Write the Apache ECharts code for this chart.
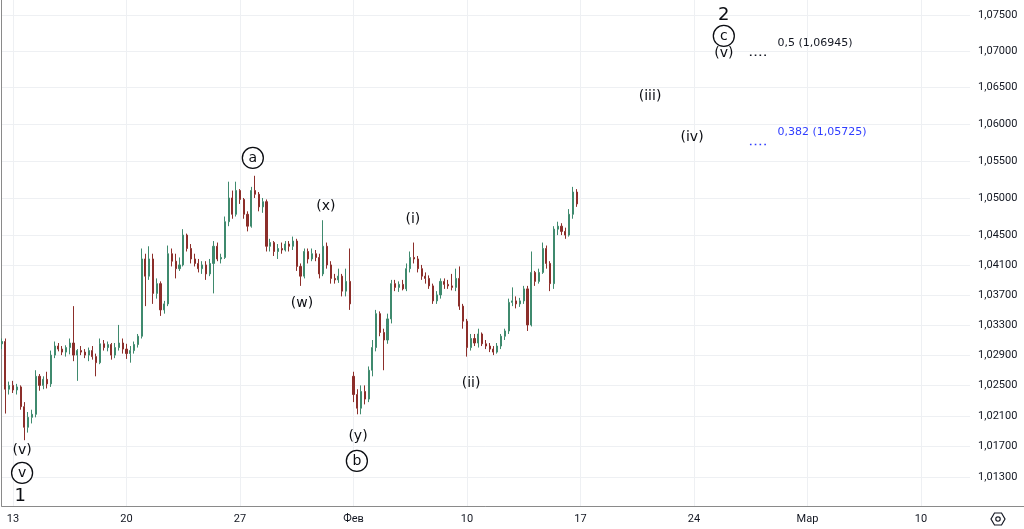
<!DOCTYPE html>
<html><head><meta charset="utf-8">
<script src="https://cdn.jsdelivr.net/npm/echarts@6/dist/echarts.min.js"></script>
<style>html,body{margin:0;padding:0;background:#fff}#c{width:1024px;height:529px}</style>
</head><body><div id="c"></div>
<script>
// 4-hour candles: [open, high, low, close]
const candles = [
[1.0305,1.0312,1.0298,1.0308],[1.0308,1.0312,1.0213,1.0245],[1.0245,1.0255,1.0238,1.0250],[1.0250,1.0256,1.0240,1.0244],
[1.0244,1.0252,1.0238,1.0248],[1.0248,1.0250,1.0218,1.0222],[1.0222,1.0228,1.0178,1.0195],[1.0195,1.0215,1.0188,1.0208],
[1.0208,1.0218,1.0200,1.0212],[1.0212,1.0270,1.0208,1.0262],[1.0262,1.0265,1.0243,1.0250],[1.0250,1.0262,1.0245,1.0258],
[1.0258,1.0268,1.0246,1.0252],[1.0252,1.0296,1.0248,1.0290],[1.0290,1.0308,1.0286,1.0302],[1.0302,1.0306,1.0295,1.0298],
[1.0298,1.0302,1.0290,1.0294],[1.0294,1.0303,1.0288,1.0300],[1.0300,1.0312,1.0291,1.0306],[1.0306,1.0355,1.0282,1.0290],
[1.0290,1.0298,1.0256,1.0296],[1.0296,1.0302,1.0290,1.0294],[1.0294,1.0298,1.0286,1.0290],[1.0290,1.0300,1.0282,1.0296],
[1.0296,1.0302,1.0284,1.0288],[1.0288,1.0292,1.0262,1.0280],[1.0280,1.0312,1.0278,1.0305],[1.0305,1.0310,1.0296,1.0300],
[1.0300,1.0308,1.0295,1.0304],[1.0304,1.0306,1.0284,1.0290],[1.0290,1.0306,1.0286,1.0300],[1.0300,1.0330,1.0296,1.0306],
[1.0306,1.0312,1.0292,1.0298],[1.0298,1.0305,1.0285,1.0292],[1.0292,1.0302,1.0280,1.0296],[1.0296,1.0308,1.0292,1.0304],
[1.0304,1.0318,1.0300,1.0315],[1.0315,1.0432,1.0312,1.0418],[1.0418,1.0425,1.0355,1.0395],[1.0395,1.0435,1.0390,1.0418],
[1.0418,1.0425,1.0358,1.0372],[1.0372,1.0392,1.0365,1.0385],[1.0385,1.0388,1.0342,1.0350],[1.0350,1.0362,1.0345,1.0358],
[1.0358,1.0436,1.0355,1.0425],[1.0425,1.0432,1.0408,1.0415],[1.0415,1.0425,1.0392,1.0405],[1.0405,1.0420,1.0402,1.0410],
[1.0410,1.0458,1.0408,1.0450],[1.0450,1.0452,1.0428,1.0432],[1.0432,1.0438,1.0412,1.0418],[1.0418,1.0425,1.0408,1.0412],
[1.0412,1.0418,1.0400,1.0405],[1.0405,1.0415,1.0398,1.0410],[1.0410,1.0415,1.0390,1.0398],[1.0398,1.0418,1.0395,1.0412],
[1.0412,1.0442,1.0372,1.0435],[1.0435,1.0440,1.0415,1.0418],[1.0418,1.0425,1.0412,1.0420],[1.0420,1.0475,1.0418,1.0468],
[1.0468,1.0522,1.0462,1.0500],[1.0500,1.0510,1.0472,1.0478],[1.0478,1.0522,1.0475,1.0510],[1.0510,1.0512,1.0492,1.0498],
[1.0498,1.0500,1.0472,1.0478],[1.0478,1.0482,1.0455,1.0462],[1.0462,1.0515,1.0460,1.0510],[1.0510,1.0530,1.0500,1.0505],
[1.0505,1.0508,1.0482,1.0488],[1.0488,1.0500,1.0480,1.0495],[1.0495,1.0498,1.0428,1.0435],[1.0435,1.0445,1.0428,1.0440],
[1.0440,1.0442,1.0422,1.0428],[1.0428,1.0438,1.0418,1.0432],[1.0432,1.0440,1.0425,1.0430],[1.0430,1.0442,1.0428,1.0438],
[1.0438,1.0442,1.0428,1.0435],[1.0435,1.0448,1.0430,1.0442],[1.0442,1.0445,1.0402,1.0408],[1.0408,1.0412,1.0382,1.0395],
[1.0395,1.0432,1.0392,1.0428],[1.0428,1.0432,1.0412,1.0418],[1.0418,1.0432,1.0415,1.0425],[1.0425,1.0430,1.0415,1.0420],
[1.0420,1.0425,1.0392,1.0398],[1.0398,1.0470,1.0395,1.0435],[1.0435,1.0440,1.0405,1.0410],[1.0410,1.0415,1.0385,1.0392],
[1.0392,1.0398,1.0385,1.0390],[1.0390,1.0405,1.0386,1.0395],[1.0395,1.0398,1.0368,1.0375],[1.0375,1.0405,1.0368,1.0388],
[1.0388,1.0432,1.0350,1.0358],[1.0262,1.0268,1.0228,1.0238],[1.0238,1.0245,1.0212,1.0220],[1.0220,1.0250,1.0212,1.0242],
[1.0242,1.0250,1.0225,1.0232],[1.0232,1.0275,1.0228,1.0270],[1.0270,1.0310,1.0262,1.0300],[1.0300,1.0350,1.0295,1.0345],
[1.0345,1.0348,1.0315,1.0320],[1.0320,1.0325,1.0270,1.0310],[1.0310,1.0345,1.0305,1.0338],[1.0338,1.0390,1.0332,1.0385],
[1.0385,1.0390,1.0375,1.0380],[1.0380,1.0388,1.0374,1.0384],[1.0384,1.0390,1.0376,1.0378],[1.0378,1.0412,1.0375,1.0405],
[1.0405,1.0428,1.0400,1.0420],[1.0420,1.0440,1.0412,1.0418],[1.0418,1.0422,1.0400,1.0405],[1.0405,1.0410,1.0390,1.0395],
[1.0395,1.0400,1.0385,1.0392],[1.0392,1.0396,1.0378,1.0382],[1.0382,1.0385,1.0358,1.0362],[1.0362,1.0375,1.0358,1.0370],
[1.0370,1.0392,1.0365,1.0388],[1.0388,1.0392,1.0378,1.0384],[1.0384,1.0390,1.0378,1.0382],[1.0382,1.0398,1.0376,1.0380],
[1.0380,1.0405,1.0375,1.0392],[1.0392,1.0408,1.0350,1.0355],[1.0355,1.0358,1.0325,1.0335],[1.0335,1.0338,1.0288,1.0300],
[1.0300,1.0318,1.0296,1.0312],[1.0312,1.0318,1.0302,1.0306],[1.0306,1.0325,1.0300,1.0318],[1.0318,1.0320,1.0302,1.0305],
[1.0305,1.0310,1.0298,1.0302],[1.0302,1.0306,1.0294,1.0298],[1.0298,1.0302,1.0290,1.0294],[1.0294,1.0306,1.0292,1.0302],
[1.0302,1.0318,1.0298,1.0315],[1.0315,1.0325,1.0310,1.0322],[1.0322,1.0365,1.0318,1.0360],[1.0360,1.0380,1.0355,1.0362],
[1.0362,1.0368,1.0352,1.0358],[1.0358,1.0366,1.0354,1.0362],[1.0362,1.0382,1.0358,1.0378],[1.0378,1.0382,1.0322,1.0330],
[1.0330,1.0428,1.0328,1.0400],[1.0400,1.0402,1.0382,1.0388],[1.0388,1.0405,1.0385,1.0400],[1.0400,1.0440,1.0398,1.0432],
[1.0432,1.0436,1.0405,1.0412],[1.0412,1.0415,1.0375,1.0385],[1.0385,1.0462,1.0378,1.0458],[1.0458,1.0468,1.0450,1.0462],
[1.0462,1.0466,1.0450,1.0455],[1.0455,1.0460,1.0445,1.0450],[1.0450,1.0485,1.0448,1.0478],[1.0478,1.0515,1.0472,1.0508],
[1.0508,1.0512,1.0488,1.0492]
];
const xTickLabels = ['13','20','27','Фев','10','17','24','Мар','10'];
const firstWeekSlot = 3, slotsPerWeek = 30, slotCount = 257;
const yTicks = [1.013,1.017,1.021,1.025,1.029,1.033,1.037,1.041,1.045,1.050,1.055,1.060,1.065,1.070,1.075];
const yRange = [1.00923, 1.07707];
// [text, slot, price]
const waveLabels = [
  ['(v)',5.4,1.01653],['(x)',85.7,1.04892],['(w)',79.4,1.03593],['(i)',108.7,1.04717],
  ['(y)',94.2,1.01836],['(ii)',124.1,1.02533],['(iii)',171.4,1.06386],['(iv)',182.5,1.05827],['(v)',190.9,1.06975]
];
const circledLabels = [['v',5.4,1.01353],['a',66.4,1.05542],['b',93.9,1.01509],['c',190.9,1.07210]];
const degreeLabels = [['1',4.9,1.01053],['2',190.9,1.07500]];
const fibLevels = [['0,5',1.06945],['0,382',1.05725]];
const fibColors = ['#131722','#2f3dff'];
const fibSpan = [197.8, 202.6];

const categories = Array.from({length: slotCount}, (_, i) => String(i));
const isWeekStart = i => i >= firstWeekSlot && (i - firstWeekSlot) % slotsPerWeek === 0;
const fmtPrice = v => v.toFixed(5).replace('.', ',');
const textFont = 'DejaVu Sans';
const ink = '#0b0d12';

const chart = echarts.init(document.getElementById('c'), null, {renderer: 'canvas'});
const fibSeries = fibLevels.map((f, k) => ({
  type: 'line', xAxisIndex: 1, yAxisIndex: 0, silent: true, symbol: 'none', z: 5,
  data: [[fibSpan[0], f[1]], [fibSpan[1], f[1]]],
  lineStyle: {color: fibColors[k], width: 1.6, type: [1.6, 3.2]}
}));
const textScatter = (data, fontSize, extra) => Object.assign({
  type: 'scatter', xAxisIndex: 1, yAxisIndex: 0, silent: true, symbolSize: 1, z: 6,
  itemStyle: {color: 'rgba(0,0,0,0)', opacity: 1},
  data: data,
  label: {show: true, position: 'inside', formatter: '{b}', color: ink, opacity: 1,
          fontFamily: textFont, fontSize: fontSize}
}, extra || {});

chart.setOption({
  animation: false,
  backgroundColor: '#ffffff',
  grid: {left: 1.65, right: 53.9, top: 0, bottom: 23, outerBoundsMode: 'none', containLabel: false},
  xAxis: [{
    type: 'category', data: categories, boundaryGap: false,
    axisLine: {show: true, lineStyle: {color: '#8a8a8a', width: 1}},
    axisTick: {show: false},
    axisLabel: {
      interval: (i) => isWeekStart(i), margin: 8,
      formatter: (v, i) => xTickLabels[Math.round((i - firstWeekSlot) / slotsPerWeek)] || '',
      color: '#131722', fontFamily: 'Roboto', fontSize: 11
    },
    splitLine: {show: true, interval: (i) => isWeekStart(i), lineStyle: {color: '#eef0f3', width: 1}}
  }, {
    type: 'value', min: 0, max: slotCount - 1, show: false
  }],
  yAxis: [{
    type: 'log', logBase: 10, position: 'right', min: yRange[0], max: yRange[1],
    axisLine: {show: true, lineStyle: {color: '#8a8a8a', width: 1}},
    axisTick: {show: false, customValues: yTicks},
    axisLabel: {customValues: yTicks, formatter: v => fmtPrice(v), color: '#131722',
                fontFamily: 'Roboto', fontSize: 11, margin: 8},
    splitLine: {show: true, lineStyle: {color: '#eef0f3', width: 1}}
  }],
  series: [{
    type: 'candlestick', xAxisIndex: 0, yAxisIndex: 0, barWidth: 1.6,
    data: candles.map(r => [r[0], r[3], r[2], r[1]]),
    itemStyle: {color: '#3f8a6e', color0: '#8c2e2a', borderColor: '#3f8a6e', borderColor0: '#8c2e2a', borderWidth: 1}
  },
  textScatter(waveLabels.map(w => ({name: w[0], value: [w[1], w[2]]})), 14),
  textScatter(circledLabels.map(w => ({name: w[0], value: [w[1], w[2]]})), 14, {
    symbol: 'circle', symbolSize: 21,
    itemStyle: {color: '#ffffff', borderColor: ink, borderWidth: 1.3, opacity: 1}
  }),
  textScatter(degreeLabels.map(w => ({name: w[0], value: [w[1], w[2]]})), 18),
  ...fibSeries,
  textScatter(fibLevels.map((f, k) => ({
    name: f[0] + ' (' + fmtPrice(f[1]) + ')', value: [fibSpan[1], f[1]],
    label: {color: fibColors[k]}
  })), 11, {
    label: {show: true, position: 'right', distance: 0, offset: [9, -12], formatter: '{b}',
            fontFamily: textFont, fontSize: 11, opacity: 1}
  })],
  graphic: [
    {type: 'line', shape: {x1: 970, y1: 506.5, x2: 1024, y2: 506.5}, style: {stroke: '#8a8a8a', lineWidth: 1}},
    {type: 'polygon', x: 998, y: 519, shape: {points: [[-3.5,-6],[3.5,-6],[7,0],[3.5,6],[-3.5,6],[-7,0]]},
     style: {fill: 'none', stroke: '#131722', lineWidth: 1.2}},
    {type: 'circle', x: 998, y: 519, shape: {r: 2.2}, style: {fill: 'none', stroke: '#131722', lineWidth: 1.2}}
  ]
});
</script>
</body></html>
